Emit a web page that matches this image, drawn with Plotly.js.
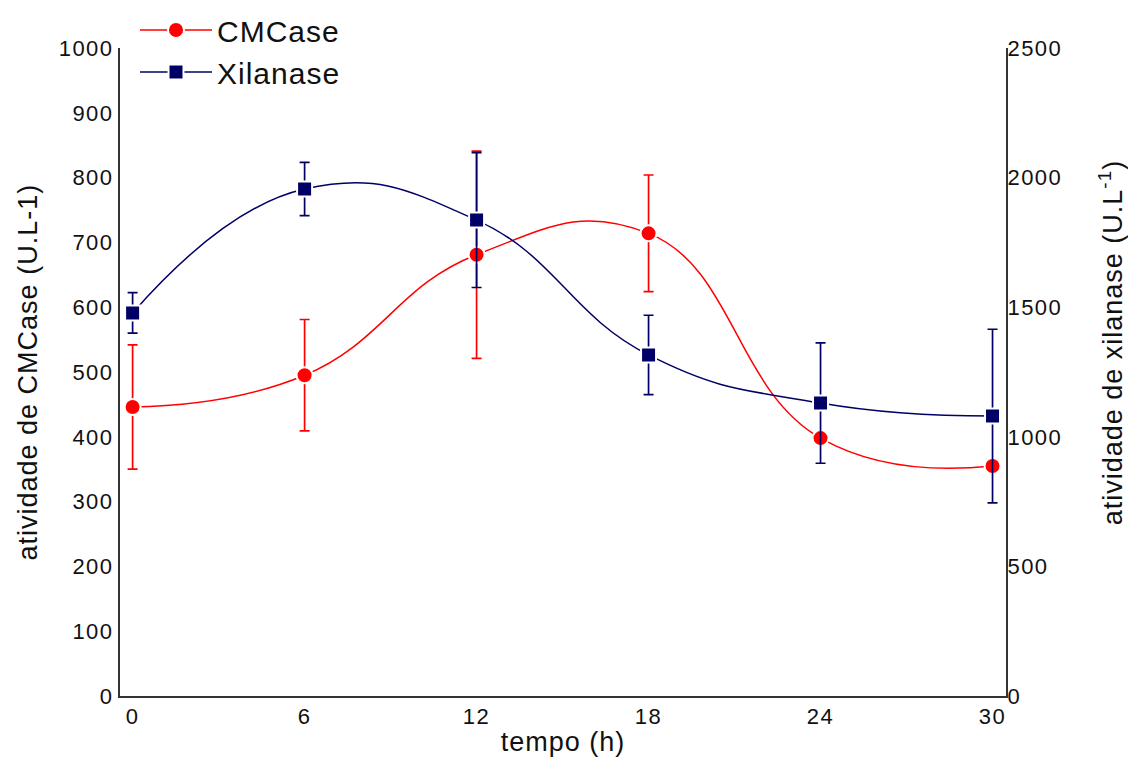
<!DOCTYPE html>
<html><head><meta charset="utf-8">
<script src="https://cdn.plot.ly/plotly-3.0.1.min.js"></script>
<style>
body{margin:0;background:#fff}#c{width:1128px;height:765px}
.main-svg text{letter-spacing:1px}
.xtick text,.ytick text,.y2tick text{letter-spacing:1.5px}
</style>
</head><body><div id="c"></div>
<script>
const tempo = [0, 6, 12, 18, 24, 30];
const cmcase = [446, 495, 681, 714, 398, 355];
const cmcaseErr = [96, 86, 160, 90, 0, 0];
const xilanase = [1478, 1956, 1836, 1316, 1130, 1080];
const xilanaseErr = [78, 103, 260, 153, 232, 335];
const xTicks = [0, 6, 12, 18, 24, 30];
const yLeftTicks = [0,100,200,300,400,500,600,700,800,900,1000];
const yRightTicks = [0,500,1000,1500,2000,2500];

const fam = 'Liberation Sans, Arial, sans-serif';
const f = (s) => ({family: fam, size: s, color: '#111'});
const traces = [
  {x: tempo, y: cmcase, name: 'CMCase', type: 'scatter', mode: 'lines+markers',
   line: {color: '#ff0000', width: 1.5, shape: 'spline', smoothing: 1.3},
   marker: {symbol: 'circle', size: 16, color: '#ff0000', line: {color: '#fff', width: 2}},
   error_y: {type: 'data', array: cmcaseErr, visible: true, color: '#ff0000', thickness: 1.7, width: 5},
   yaxis: 'y'},
  {x: tempo, y: xilanase, name: 'Xilanase', type: 'scatter', mode: 'lines+markers',
   line: {color: '#000066', width: 1.5, shape: 'spline', smoothing: 1.3},
   marker: {symbol: 'square', size: 15, color: '#000066', line: {color: '#fff', width: 2}},
   error_y: {type: 'data', array: xilanaseErr, visible: true, color: '#000066', thickness: 1.7, width: 5},
   yaxis: 'y2'}
];
const layout = {
  width: 1128, height: 765,
  margin: {l: 120, r: 122, t: 48, b: 69, autoexpand: false},
  paper_bgcolor: '#fff', plot_bgcolor: '#fff',
  font: f(22),
  showlegend: true,
  legend: {x: 135/1128, xref: 'container', y: 1 - 4/765, yref: 'container', xanchor: 'left', yanchor: 'top',
           font: f(30), bgcolor: 'rgba(0,0,0,0)', itemwidth: 72, tracegroupgap: 0},
  xaxis: {range: [-0.44, 30.47], tickvals: xTicks, ticktext: xTicks.map(String), showgrid: false, zeroline: false,
          showline: true, linecolor: '#333', linewidth: 2, ticks: '', tickfont: f(22),
          title: {text: 'tempo (h)', font: f(27), standoff: 4}},
  yaxis: {range: [0, 1000], tickvals: yLeftTicks, showgrid: false, zeroline: false,
          showline: true, linecolor: '#333', linewidth: 2, ticks: '', tickfont: f(22)},
  yaxis2: {range: [0, 2500], tickvals: yRightTicks, overlaying: 'y', side: 'right', showgrid: false, zeroline: false,
          showline: true, linecolor: '#333', linewidth: 2, ticks: '', tickfont: f(22), ticklabelstandoff: -5},
  annotations: [
    {text: 'atividade de CMCase (U.L-1)', xref: 'paper', yref: 'paper', x: 0, y: 0.5, xshift: -92,
     xanchor: 'center', yanchor: 'middle', textangle: -90, showarrow: false, font: f(27)},
    {text: 'atividade de xilanase (U.L<sup>-1</sup>)', xref: 'paper', yref: 'paper', x: 1, y: 0.545, xshift: 105,
     xanchor: 'center', yanchor: 'middle', textangle: -90, showarrow: false, font: f(27)}
  ]
};
Plotly.newPlot('c', traces, layout, {displayModeBar: false, staticPlot: true});
</script></body></html>
